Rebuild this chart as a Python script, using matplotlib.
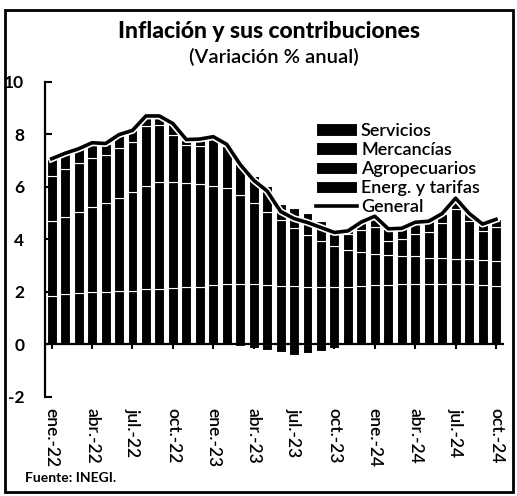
import matplotlib.pyplot as plt
import matplotlib.patheffects as pe
from matplotlib.patches import Rectangle
import numpy as np

plt.rcParams['font.family'] = ['Lato', 'DejaVu Sans']

meses = ['ene.', 'feb.', 'mar.', 'abr.', 'may.', 'jun.',
         'jul.', 'ago.', 'sep.', 'oct.', 'nov.', 'dic.']
fechas = [f"{m}-{a}" for a in ['22', '23', '24'] for m in meses][:34]

general = [7.07, 7.28, 7.45, 7.68, 7.65, 7.99, 8.15, 8.70, 8.70, 8.41, 7.80, 7.82,
           7.91, 7.62, 6.85, 6.25, 5.84, 5.06, 4.79, 4.64, 4.45, 4.26, 4.32, 4.66,
           4.88, 4.40, 4.42, 4.65, 4.69, 4.98, 5.57, 4.99, 4.58, 4.76]
servicios = [1.85, 1.90, 1.95, 2.00, 2.00, 2.02, 2.05, 2.10, 2.12, 2.15, 2.18, 2.20,
             2.25, 2.30, 2.30, 2.28, 2.25, 2.22, 2.22, 2.20, 2.20, 2.18, 2.20, 2.22,
             2.25, 2.25, 2.28, 2.30, 2.30, 2.30, 2.28, 2.28, 2.25, 2.22]
mercancias = [2.85, 2.95, 3.10, 3.25, 3.40, 3.55, 3.75, 3.95, 4.05, 4.05, 3.95, 3.90,
              3.80, 3.65, 3.40, 3.10, 2.80, 2.50, 2.20, 1.95, 1.75, 1.55, 1.40, 1.30,
              1.20, 1.15, 1.10, 1.05, 1.00, 0.98, 0.98, 0.98, 0.95, 0.95]
agropecuarios = [1.72, 1.83, 1.85, 1.83, 1.80, 1.92, 1.90, 2.25, 2.18, 1.76, 1.47, 1.47,
                 1.76, 1.62, 1.20, 1.02, 0.99, 0.64, 0.77, 0.84, 0.75, 0.68, 0.62, 0.84,
                 1.03, 0.55, 0.64, 0.85, 0.99, 1.35, 1.91, 1.43, 1.13, 1.29]
energeticos = [0.65, 0.60, 0.55, 0.60, 0.45, 0.50, 0.45, 0.40, 0.35, 0.45, 0.20, 0.25,
               0.10, 0.05, -0.05, -0.15, -0.20, -0.30, -0.40, -0.35, -0.25, -0.15, 0.10, 0.30,
               0.40, 0.45, 0.40, 0.45, 0.40, 0.35, 0.40, 0.30, 0.25, 0.30]

series = [('Servicios', servicios), ('Mercancías', mercancias),
          ('Agropecuarios', agropecuarios), ('Energ. y tarifas', energeticos)]

fig = plt.figure(figsize=(5.17, 4.96), dpi=100)
ax = fig.add_axes([0.087, 0.2, 0.888, 0.635])

x = np.arange(len(fechas))
pos = np.zeros(len(x))
neg = np.zeros(len(x))
handles = []
for nombre, vals in series:
    v = np.array(vals)
    base = np.where(v >= 0, pos, neg)
    b = ax.bar(x, v, 0.74, bottom=base, color='black', edgecolor='white',
               linewidth=0.8, label=nombre)
    handles.append(b)
    pos = pos + np.clip(v, 0, None)
    neg = neg + np.clip(v, None, 0)

ln, = ax.plot(x, general, color='black', lw=2.6, label='General',
              path_effects=[pe.Stroke(linewidth=5, foreground='white'), pe.Normal()])
handles.append(ln)

ax.axhline(0, color='black', lw=1.6)
xt = x[::3]
ax.plot(xt, np.zeros(len(xt)), ls='none', marker='|', ms=7, mew=1.5, color='black')

ax.set_xlim(-0.5, 33.6)
ax.set_ylim(-2, 10)
ax.set_yticks([-2, 0, 2, 4, 6, 8, 10])
ax.set_yticklabels(['-2', '0', '2', '4', '6', '8', '10'], fontsize=12.5, fontweight='bold')
ax.tick_params(axis='y', direction='in', length=5, width=1.5, pad=15)
ax.set_xticks(xt)
ax.set_xticklabels([fechas[i] for i in xt], rotation=-90, fontsize=12.5,
                   fontweight='semibold', ha='center', va='top')
ax.tick_params(axis='x', length=0, pad=8)
for s in ['top', 'right', 'bottom']:
    ax.spines[s].set_visible(False)
ax.spines['left'].set_linewidth(1.6)

ax.legend(handles=handles, loc='upper left', bbox_to_anchor=(0.611, 0.752),
          bbox_transform=fig.transFigure, frameon=False,
          prop={'size': 13, 'weight': 'semibold'}, handlelength=2.3, handleheight=0.7,
          handletextpad=0.2, labelspacing=0.17, borderpad=0, borderaxespad=0)

fig.text(0.52, 0.937, 'Inflación y sus contribuciones', ha='center', va='center',
         fontsize=16.5, fontweight='black')
fig.text(0.53, 0.886, '(Variación % anual)', ha='center', va='center', fontsize=14.5,
         fontweight='semibold')
fig.text(0.048, 0.036, 'Fuente: INEGI.', ha='left', va='center', fontsize=10,
         fontweight='bold')

fig.patches.append(Rectangle((0.009, 0.008), 0.984, 0.972, transform=fig.transFigure,
                             fill=False, lw=2, edgecolor='black'))

fig.savefig('out.png', dpi=100)
